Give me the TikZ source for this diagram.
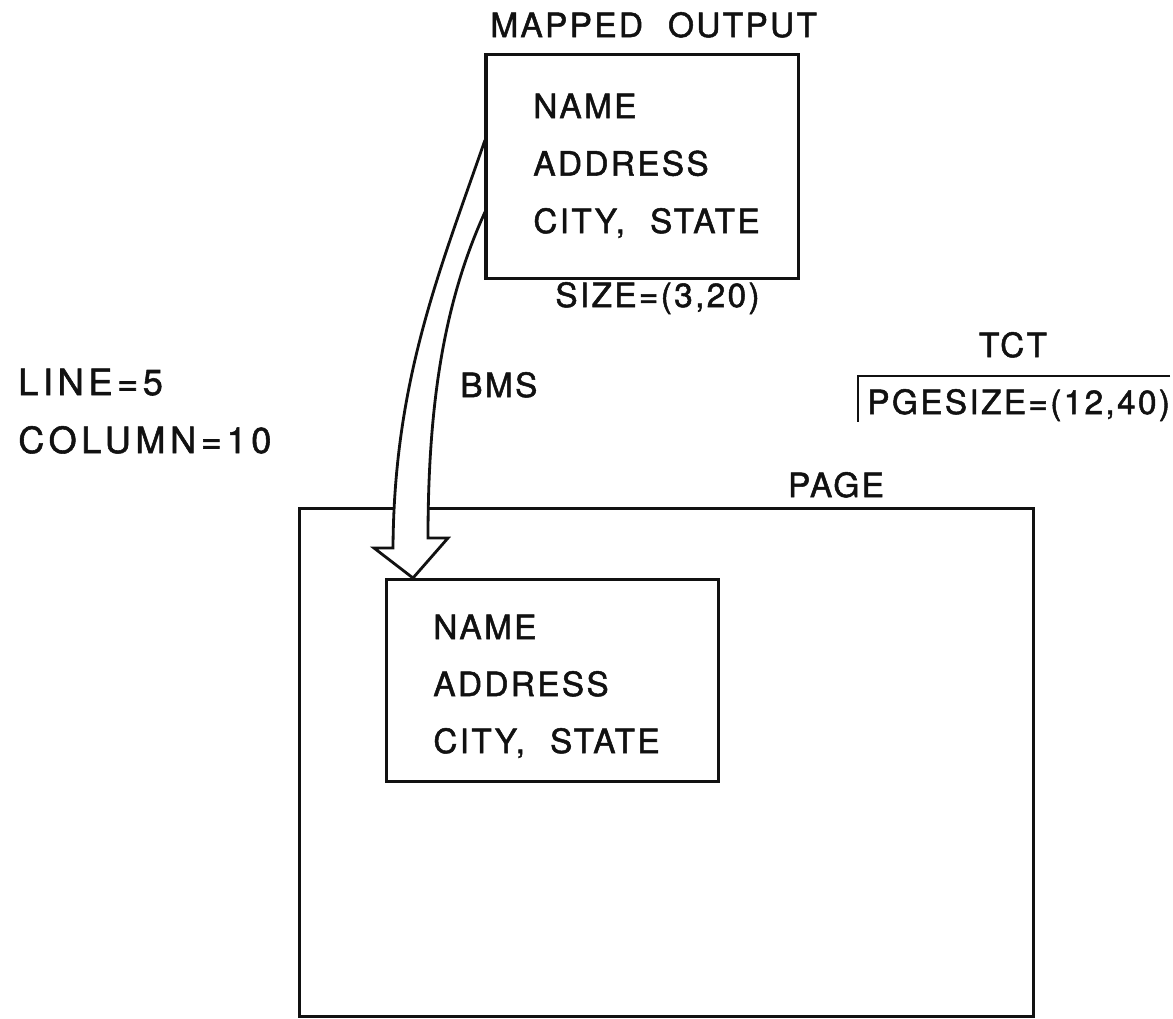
\documentclass[tikz,border=0pt]{standalone}
\usepackage{fontspec}
\setmainfont{TeX Gyre Heros}[LetterSpace=7,FakeBold=1.5]
\usetikzlibrary{calc}
\newcommand{\widegap}{\hspace{0.75em}}

\begin{document}
\begin{tikzpicture}[x=0.02cm,y=-0.02cm,font=\fontsize{19}{23}\selectfont,
    frame/.style={draw=ink,line width=1.6pt,inner sep=0pt,anchor=north west},
    lbl/.style={inner sep=0pt,text=ink,anchor=base west},
    side/.style={lbl,font=\fontsize{20.5}{24}\selectfont\addfontfeature{LetterSpace=13}},
    rule/.style={draw=ink,line width=1.6pt}]
  \definecolor{ink}{HTML}{111111}
  \path[use as bounding box] (0,0) rectangle (1173,1018);
  \node[frame,minimum width=14.68cm,minimum height=10.16cm] (page) at (298,507) {};
  \node[frame,minimum width=6.24cm,minimum height=4.48cm] (mapped) at (485,53) {};
  \node[frame,minimum width=6.64cm,minimum height=4.04cm] (inner) at (385,578) {};
  % hollow arrow from the map to its place on the page
  \coordinate (arrow-out) at ($(mapped.north west)+(0,87)$);
  \coordinate (arrow-in) at ($(mapped.north west)+(0,159)$);
  \coordinate (arrow-tip) at ($(inner.north west)+(28,0)$);
  \filldraw[fill=white,draw=ink,line width=1.6pt,line join=miter]
    (arrow-out) .. controls (440,270) and (394,380) .. (393,548)
    -- (374,548) -- (arrow-tip) -- (448,538) -- (428,538)
    .. controls (428,400) and (445,300) .. (arrow-in);
  \draw[rule] (mapped.north west) -- (mapped.south west);
  \foreach \frm/\dx/\dy/\gap in {mapped/48/65/57.5,inner/48/61/57}{
    \foreach \k/\lab in {0/NAME,1/ADDRESS,2/{CITY,\widegap STATE}}{
      \node[lbl] (\frm-\k) at ($(\frm.north west)+(\dx,\dy+\gap*\k)$) {\lab};
    }
  }
  \node[lbl] (title) at (490,37) {MAPPED\widegap OUTPUT};
  \node[lbl] (size) at (555,307) {SIZE=(3,20)};
  \node[side] (line) at (18,395) {LINE=5};
  \node[side] (column) at (18,453) {COLUMN=10};
  \node[lbl] (bms) at (460,397) {BMS};
  \node[lbl,anchor=base] (pagename) at (836,497) {PAGE};
  % TCT entry
  \node[lbl,anchor=base] (tct) at (1013,357) {TCT};
  \node[lbl] (pgesize) at (867,414) {PGESIZE=(12,40)};
  \coordinate (tct-corner) at (858,376);
  \draw[rule] (1170,376) -- (tct-corner) -- (858,422);
\end{tikzpicture}
\end{document}
